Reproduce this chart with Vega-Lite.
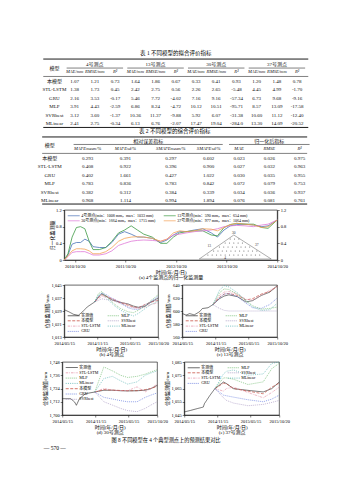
{
  "$schema": "https://vega.github.io/schema/vega-lite/v6.json",
  "padding": {"left": 37, "top": 51, "right": 0, "bottom": 0},
  "background": "white",
  "spacing": 1,
  "center": true,
  "resolve": {"scale": {"color": "independent", "strokeDash": "independent", "x": "independent", "y": "independent"}, "legend": {"color": "independent", "strokeDash": "independent"}},
  "config": {
    "font": "Liberation Serif, Noto Sans CJK SC",
    "view": {"stroke": "#000", "strokeWidth": 0.6},
    "axis": {"labelFontSize": 4.5, "titleFontSize": 5, "titleFontWeight": "normal", "tickSize": 2, "tickWidth": 0.5, "tickColor": "#000", "domainColor": "#000", "domainWidth": 0.6, "labelColor": "#000", "titleColor": "#000", "grid": false, "labelPadding": 1, "titlePadding": 1.5, "labelFlush": false, "labelOverlap": false, "labelBound": false, "titleLineHeight": 5.5},
    "legend": {"labelFontSize": 4, "labelColor": "#000", "symbolType": "M-1,0H5", "symbolSize": 16, "symbolStrokeWidth": 0.7, "labelOffset": 9, "rowPadding": 0.3, "columnPadding": 5, "padding": 1, "offset": 2, "labelLimit": 300},
    "title": {"fontSize": 5.5, "fontWeight": "normal", "color": "#000", "offset": 2},
    "text": {"fontSize": 5, "color": "#111"}
  },
  "title": {"text": "— 570 —", "orient": "bottom", "anchor": "start", "fontSize": 5.5, "offset": 3, "dx": 6},
  "datasets": {
    "t1": [
      {"模型": "本模型", "a1": "1.07", "a2": "1.21", "a3": "0.73", "b1": "1.64", "b2": "1.86", "b3": "0.67", "c1": "0.33", "c2": "0.41", "c3": "0.93", "d1": "1.20", "d2": "1.48", "d3": "0.78"},
      {"模型": "STL-LSTM", "a1": "1.38", "a2": "1.73", "a3": "0.45", "b1": "2.42", "b2": "2.75", "b3": "0.56", "c1": "2.26", "c2": "2.65", "c3": "-5.48", "d1": "4.45", "d2": "4.99", "d3": "-1.70"},
      {"模型": "GRU", "a1": "2.16", "a2": "3.53", "a3": "-0.17", "b1": "5.46", "b2": "7.72", "b3": "-4.02", "c1": "7.16", "c2": "9.16", "c3": "-57.34", "d1": "6.73", "d2": "9.68", "d3": "-9.16"},
      {"模型": "MLP", "a1": "3.91", "a2": "4.43", "a3": "-2.59", "b1": "6.86", "b2": "8.24", "b3": "-4.72", "c1": "10.12", "c2": "10.51", "c3": "-95.71", "d1": "8.57", "d2": "13.09", "d3": "-17.58"},
      {"模型": "SVRbest", "a1": "3.12", "a2": "3.60", "a3": "-1.37", "b1": "10.36", "b2": "11.37", "b3": "-9.88", "c1": "5.92", "c2": "6.07", "c3": "-31.38", "d1": "10.60", "d2": "11.12", "d3": "-12.40"},
      {"模型": "MLinear", "a1": "2.41", "a2": "2.75", "a3": "-0.34", "b1": "6.13", "b2": "6.76", "b3": "-2.07", "c1": "17.47", "c2": "19.04", "c3": "-284.0", "d1": "13.30", "d2": "14.09", "d3": "-20.52"}
    ],
    "t1g": [
      {"r": "h1", "k": "a2", "t": "4号测点"}, {"r": "h1", "k": "b2", "t": "13号测点"}, {"r": "h1", "k": "c2", "t": "30号测点"}, {"r": "h1", "k": "d2", "t": "37号测点"}
    ],
    "t1h": [
      {"r": "h2", "k": "a1", "t": "MAE/mm"}, {"r": "h2", "k": "a2", "t": "RMSE/mm"}, {"r": "h2", "k": "a3", "t": "R²"},
      {"r": "h2", "k": "b1", "t": "MAE/mm"}, {"r": "h2", "k": "b2", "t": "RMSE/mm"}, {"r": "h2", "k": "b3", "t": "R²"},
      {"r": "h2", "k": "c1", "t": "MAE/mm"}, {"r": "h2", "k": "c2", "t": "RMSE/mm"}, {"r": "h2", "k": "c3", "t": "R²"},
      {"r": "h2", "k": "d1", "t": "MAE/mm"}, {"r": "h2", "k": "d2", "t": "RMSE/mm"}, {"r": "h2", "k": "d3", "t": "R²"}
    ],
    "t1u": [{"k1": "a1", "k2": "a3"}, {"k1": "b1", "k2": "b3"}, {"k1": "c1", "k2": "c3"}, {"k1": "d1", "k2": "d3"}],
    "t2": [
      {"模型": "本模型", "m1": "0.293", "m2": "0.391", "m3": "0.297", "m4": "0.602", "n1": "0.023", "n2": "0.026", "n3": "0.975"},
      {"模型": "STL-LSTM", "m1": "0.408", "m2": "0.922", "m3": "0.396", "m4": "0.900", "n1": "0.027", "n2": "0.032", "n3": "0.963"},
      {"模型": "GRU", "m1": "0.402", "m2": "1.661", "m3": "0.427", "m4": "1.022", "n1": "0.030", "n2": "0.035", "n3": "0.955"},
      {"模型": "MLP", "m1": "0.783", "m2": "0.836", "m3": "0.783", "m4": "0.842", "n1": "0.072", "n2": "0.079", "n3": "0.753"},
      {"模型": "SVRbest", "m1": "0.382", "m2": "0.312", "m3": "0.384", "m4": "0.339", "n1": "0.034", "n2": "0.036", "n3": "0.937"},
      {"模型": "MLinear", "m1": "0.968", "m2": "1.114", "m3": "0.994", "m4": "1.894", "n1": "0.076", "n2": "0.081", "n3": "0.761"}
    ],
    "t2g": [{"r": "h1", "k": "_11", "t": "相对误差指标"}, {"r": "h1", "k": "n2", "t": "归一化后指标"}],
    "t2h": [
      {"r": "h2", "k": "m1", "t": "MAPEmean/%"}, {"r": "h2", "k": "m2", "t": "MAPEsd/%"}, {"r": "h2", "k": "m3", "t": "SMAPEmean/%"}, {"r": "h2", "k": "m4", "t": "SMAPEsd/%"},
      {"r": "h2", "k": "n1", "t": "MAE"}, {"r": "h2", "k": "n2", "t": "RMSE"}, {"r": "h2", "k": "n3", "t": "R²"}
    ],
    "top": [
      {"d": "2010-08-05", "4号测点(min：1008 mm，max：1033 mm)": 0.00, "13号测点(min：590 mm，max：654 mm)": 0.00, "30号测点(min：1664 mm，max：1715 mm)": 0.00, "37号测点(min：977 mm，max：1064 mm)": 0.00},
      {"d": "2010-09-01", "4号测点(min：1008 mm，max：1033 mm)": 0.12, "13号测点(min：590 mm，max：654 mm)": 0.15, "30号测点(min：1664 mm，max：1715 mm)": 0.08, "37号测点(min：977 mm，max：1064 mm)": 0.10},
      {"d": "2010-10-01", "4号测点(min：1008 mm，max：1033 mm)": 0.38, "13号测点(min：590 mm，max：654 mm)": 0.55, "30号测点(min：1664 mm，max：1715 mm)": 0.18, "37号测点(min：977 mm，max：1064 mm)": 0.22},
      {"d": "2010-11-01", "4号测点(min：1008 mm，max：1033 mm)": 0.42, "13号测点(min：590 mm，max：654 mm)": 0.78, "30号测点(min：1664 mm，max：1715 mm)": 0.20, "37号测点(min：977 mm，max：1064 mm)": 0.27},
      {"d": "2010-12-01", "4号测点(min：1008 mm，max：1033 mm)": 0.42, "13号测点(min：590 mm，max：654 mm)": 0.80, "30号测点(min：1664 mm，max：1715 mm)": 0.20, "37号测点(min：977 mm，max：1064 mm)": 0.27},
      {"d": "2011-01-01", "4号测点(min：1008 mm，max：1033 mm)": 0.50, "13号测点(min：590 mm，max：654 mm)": 0.75, "30号测点(min：1664 mm，max：1715 mm)": 0.20, "37号测点(min：977 mm，max：1064 mm)": 0.26},
      {"d": "2011-02-01", "4号测点(min：1008 mm，max：1033 mm)": 0.45, "13号测点(min：590 mm，max：654 mm)": 0.45, "30号测点(min：1664 mm，max：1715 mm)": 0.16, "37号测点(min：977 mm，max：1064 mm)": 0.22},
      {"d": "2011-03-01", "4号测点(min：1008 mm，max：1033 mm)": 0.32, "13号测点(min：590 mm，max：654 mm)": 0.25, "30号测点(min：1664 mm，max：1715 mm)": 0.12, "37号测点(min：977 mm，max：1064 mm)": 0.15},
      {"d": "2011-04-15", "4号测点(min：1008 mm，max：1033 mm)": 0.30, "13号测点(min：590 mm，max：654 mm)": 0.25, "30号测点(min：1664 mm，max：1715 mm)": 0.12, "37号测点(min：977 mm，max：1064 mm)": 0.15},
      {"d": "2011-06-01", "4号测点(min：1008 mm，max：1033 mm)": 0.30, "13号测点(min：590 mm，max：654 mm)": 0.30, "30号测点(min：1664 mm，max：1715 mm)": 0.15, "37号测点(min：977 mm，max：1064 mm)": 0.20},
      {"d": "2011-07-15", "4号测点(min：1008 mm，max：1033 mm)": 0.42, "13号测点(min：590 mm，max：654 mm)": 0.45, "30号测点(min：1664 mm，max：1715 mm)": 0.22, "37号测点(min：977 mm，max：1064 mm)": 0.30},
      {"d": "2011-09-01", "4号测点(min：1008 mm，max：1033 mm)": 0.62, "13号测点(min：590 mm，max：654 mm)": 0.65, "30号测点(min：1664 mm，max：1715 mm)": 0.35, "37号测点(min：977 mm，max：1064 mm)": 0.45},
      {"d": "2011-10-15", "4号测点(min：1008 mm，max：1033 mm)": 0.68, "13号测点(min：590 mm，max：654 mm)": 0.72, "30号测点(min：1664 mm，max：1715 mm)": 0.40, "37号测点(min：977 mm，max：1064 mm)": 0.52},
      {"d": "2011-12-01", "4号测点(min：1008 mm，max：1033 mm)": 0.62, "13号测点(min：590 mm，max：654 mm)": 0.82, "30号测点(min：1664 mm，max：1715 mm)": 0.45, "37号测点(min：977 mm，max：1064 mm)": 0.55},
      {"d": "2012-01-15", "4号测点(min：1008 mm，max：1033 mm)": 0.55, "13号测点(min：590 mm，max：654 mm)": 0.72, "30号测点(min：1664 mm，max：1715 mm)": 0.47, "37号测点(min：977 mm，max：1064 mm)": 0.56},
      {"d": "2012-03-01", "4号测点(min：1008 mm，max：1033 mm)": 0.55, "13号测点(min：590 mm，max：654 mm)": 0.62, "30号测点(min：1664 mm，max：1715 mm)": 0.48, "37号测点(min：977 mm，max：1064 mm)": 0.55},
      {"d": "2012-05-01", "4号测点(min：1008 mm，max：1033 mm)": 0.52, "13号测点(min：590 mm，max：654 mm)": 0.55, "30号测点(min：1664 mm，max：1715 mm)": 0.47, "37号测点(min：977 mm，max：1064 mm)": 0.52},
      {"d": "2012-07-01", "4号测点(min：1008 mm，max：1033 mm)": 0.42, "13号测点(min：590 mm，max：654 mm)": 0.40, "30号测点(min：1664 mm，max：1715 mm)": 0.45, "37号测点(min：977 mm，max：1064 mm)": 0.45},
      {"d": "2012-08-15", "4号测点(min：1008 mm，max：1033 mm)": 0.48, "13号测点(min：590 mm，max：654 mm)": 0.40, "30号测点(min：1664 mm，max：1715 mm)": 0.50, "37号测点(min：977 mm，max：1064 mm)": 0.50},
      {"d": "2012-10-01", "4号测点(min：1008 mm，max：1033 mm)": 0.60, "13号测点(min：590 mm，max：654 mm)": 0.55, "30号测点(min：1664 mm，max：1715 mm)": 0.60, "37号测点(min：977 mm，max：1064 mm)": 0.65},
      {"d": "2012-11-15", "4号测点(min：1008 mm，max：1033 mm)": 0.68, "13号测点(min：590 mm，max：654 mm)": 0.65, "30号测点(min：1664 mm，max：1715 mm)": 0.62, "37号测点(min：977 mm，max：1064 mm)": 0.70},
      {"d": "2013-01-01", "4号测点(min：1008 mm，max：1033 mm)": 0.68, "13号测点(min：590 mm，max：654 mm)": 0.68, "30号测点(min：1664 mm，max：1715 mm)": 0.65, "37号测点(min：977 mm，max：1064 mm)": 0.68},
      {"d": "2013-03-01", "4号测点(min：1008 mm，max：1033 mm)": 0.72, "13号测点(min：590 mm，max：654 mm)": 0.70, "30号测点(min：1664 mm，max：1715 mm)": 0.68, "37号测点(min：977 mm，max：1064 mm)": 0.70},
      {"d": "2013-05-01", "4号测点(min：1008 mm，max：1033 mm)": 0.75, "13号测点(min：590 mm，max：654 mm)": 0.70, "30号测点(min：1664 mm，max：1715 mm)": 0.70, "37号测点(min：977 mm，max：1064 mm)": 0.75},
      {"d": "2013-07-01", "4号测点(min：1008 mm，max：1033 mm)": 0.65, "13号测点(min：590 mm，max：654 mm)": 0.60, "30号测点(min：1664 mm，max：1715 mm)": 0.72, "37号测点(min：977 mm，max：1064 mm)": 0.74},
      {"d": "2013-08-15", "4号测点(min：1008 mm，max：1033 mm)": 0.55, "13号测点(min：590 mm，max：654 mm)": 0.58, "30号测点(min：1664 mm，max：1715 mm)": 0.75, "37号测点(min：977 mm，max：1064 mm)": 0.70},
      {"d": "2013-10-01", "4号测点(min：1008 mm，max：1033 mm)": 0.72, "13号测点(min：590 mm，max：654 mm)": 0.78, "30号测点(min：1664 mm，max：1715 mm)": 0.80, "37号测点(min：977 mm，max：1064 mm)": 0.78},
      {"d": "2013-11-15", "4号测点(min：1008 mm，max：1033 mm)": 0.82, "13号测点(min：590 mm，max：654 mm)": 0.85, "30号测点(min：1664 mm，max：1715 mm)": 0.82, "37号测点(min：977 mm，max：1064 mm)": 0.85},
      {"d": "2014-01-01", "4号测点(min：1008 mm，max：1033 mm)": 0.85, "13号测点(min：590 mm，max：654 mm)": 0.88, "30号测点(min：1664 mm，max：1715 mm)": 0.83, "37号测点(min：977 mm，max：1064 mm)": 0.88},
      {"d": "2014-03-01", "4号测点(min：1008 mm，max：1033 mm)": 0.86, "13号测点(min：590 mm，max：654 mm)": 0.86, "30号测点(min：1664 mm，max：1715 mm)": 0.82, "37号测点(min：977 mm，max：1064 mm)": 0.86},
      {"d": "2014-05-01", "4号测点(min：1008 mm，max：1033 mm)": 0.84, "13号测点(min：590 mm，max：654 mm)": 0.86, "30号测点(min：1664 mm，max：1715 mm)": 0.80, "37号测点(min：977 mm，max：1064 mm)": 0.84},
      {"d": "2014-07-01", "4号测点(min：1008 mm，max：1033 mm)": 0.80, "13号测点(min：590 mm，max：654 mm)": 0.78, "30号测点(min：1664 mm，max：1715 mm)": 0.84, "37号测点(min：977 mm，max：1064 mm)": 0.78},
      {"d": "2014-08-15", "4号测点(min：1008 mm，max：1033 mm)": 0.82, "13号测点(min：590 mm，max：654 mm)": 0.76, "30号测点(min：1664 mm，max：1715 mm)": 0.86, "37号测点(min：977 mm，max：1064 mm)": 0.80},
      {"d": "2014-10-20", "4号测点(min：1008 mm，max：1033 mm)": 0.96, "13号测点(min：590 mm，max：654 mm)": 0.96, "30号测点(min：1664 mm，max：1715 mm)": 0.96, "37号测点(min：977 mm，max：1064 mm)": 0.96}
    ],
    "damOutline": [{"o": 1, "ix": 0, "iy": 0}, {"o": 2, "ix": 48, "iy": 30}, {"o": 3, "ix": 100, "iy": 0}, {"o": 4, "ix": 0, "iy": 0}],
    "damDots": [
      {"ix": 12, "iy": 5}, {"ix": 18, "iy": 5}, {"ix": 24, "iy": 5}, {"ix": 30, "iy": 5}, {"ix": 36, "iy": 5}, {"ix": 42, "iy": 5}, {"ix": 48, "iy": 5}, {"ix": 54, "iy": 5}, {"ix": 60, "iy": 5}, {"ix": 66, "iy": 5}, {"ix": 72, "iy": 5}, {"ix": 78, "iy": 5}, {"ix": 84, "iy": 5},
      {"ix": 20, "iy": 10}, {"ix": 26, "iy": 10}, {"ix": 32, "iy": 10}, {"ix": 38, "iy": 10}, {"ix": 44, "iy": 10}, {"ix": 50, "iy": 10}, {"ix": 56, "iy": 10}, {"ix": 62, "iy": 10}, {"ix": 68, "iy": 10}, {"ix": 74, "iy": 10}, {"ix": 80, "iy": 10},
      {"ix": 28, "iy": 15}, {"ix": 34, "iy": 15}, {"ix": 40, "iy": 15}, {"ix": 46, "iy": 15}, {"ix": 52, "iy": 15}, {"ix": 58, "iy": 15}, {"ix": 64, "iy": 15}, {"ix": 70, "iy": 15},
      {"ix": 36, "iy": 20}, {"ix": 42, "iy": 20}, {"ix": 48, "iy": 20}, {"ix": 54, "iy": 20}, {"ix": 60, "iy": 20},
      {"ix": 43, "iy": 25}, {"ix": 49, "iy": 25}, {"ix": 55, "iy": 25}
    ],
    "damLabels": [{"ix": 14, "iy": 16, "t": "13"}, {"ix": 80, "iy": 17, "t": "37"}, {"ix": 48, "iy": 33, "t": "30"}, {"ix": 36, "iy": 1.5, "t": "4"}],
    "pa": [
      {"d": "2014-05-15", "实测值": 1029.8},
      {"d": "2014-06-10", "实测值": 1028.5},
      {"d": "2014-07-05", "实测值": 1027.0},
      {"d": "2014-08-01", "实测值": 1026.3},
      {"d": "2014-08-25", "实测值": 1028.5},
      {"d": "2014-09-20", "实测值": 1031.5},
      {"d": "2014-11-01", "实测值": 1034.6, "本模型": 1034.6, "STL-LSTM": 1034.6, "GRU": 1034.6, "MLP": 1034.6, "SVRbest": 1034.6, "MLinear": 1034.6},
      {"d": "2014-11-20", "实测值": 1037.5, "本模型": 1037.2, "STL-LSTM": 1036.5, "GRU": 1037.8, "MLP": 1039.5, "SVRbest": 1035.5, "MLinear": 1038.5},
      {"d": "2014-12-10", "实测值": 1039.6, "本模型": 1039.0, "STL-LSTM": 1038.0, "GRU": 1040.0, "MLP": 1041.0, "SVRbest": 1036.5, "MLinear": 1040.0},
      {"d": "2015-01-05", "实测值": 1038.0, "本模型": 1038.0, "STL-LSTM": 1037.5, "GRU": 1039.0, "MLP": 1038.0, "SVRbest": 1036.0, "MLinear": 1037.0},
      {"d": "2015-02-01", "实测值": 1036.0, "本模型": 1036.5, "STL-LSTM": 1037.0, "GRU": 1037.0, "MLP": 1035.0, "SVRbest": 1035.5, "MLinear": 1034.0},
      {"d": "2015-02-21", "实测值": 1035.3, "本模型": 1035.5, "STL-LSTM": 1036.0, "GRU": 1036.0, "MLP": 1033.0, "SVRbest": 1035.0, "MLinear": 1032.0},
      {"d": "2015-03-25", "实测值": 1034.3, "本模型": 1034.0, "STL-LSTM": 1034.5, "GRU": 1034.0, "MLP": 1030.5, "SVRbest": 1033.5, "MLinear": 1029.5},
      {"d": "2015-05-06", "实测值": 1033.3, "本模型": 1032.5, "STL-LSTM": 1033.0, "GRU": 1031.0, "MLP": 1028.5, "SVRbest": 1031.5, "MLinear": 1027.0},
      {"d": "2015-06-05", "实测值": 1032.0, "本模型": 1031.5, "STL-LSTM": 1031.0, "GRU": 1030.0, "MLP": 1028.0, "SVRbest": 1031.0, "MLinear": 1026.0},
      {"d": "2015-07-02", "实测值": 1031.3, "本模型": 1031.0, "STL-LSTM": 1030.5, "GRU": 1030.0, "MLP": 1029.5, "SVRbest": 1031.0, "MLinear": 1027.5},
      {"d": "2015-08-08", "实测值": 1032.0, "本模型": 1033.0, "STL-LSTM": 1031.5, "GRU": 1032.0, "MLP": 1032.0, "SVRbest": 1033.0, "MLinear": 1030.5},
      {"d": "2015-09-10", "实测值": 1034.5, "本模型": 1034.5, "STL-LSTM": 1033.0, "GRU": 1035.0, "MLP": 1035.5, "SVRbest": 1034.5, "MLinear": 1033.0},
      {"d": "2015-10-20", "实测值": 1037.0, "本模型": 1035.5, "STL-LSTM": 1034.0, "GRU": 1038.0, "MLP": 1039.0, "SVRbest": 1036.0, "MLinear": 1035.0}
    ],
    "pb": [
      {"d": "2014-05-15", "实测值": 596.2},
      {"d": "2014-06-05", "实测值": 593.7},
      {"d": "2014-06-25", "实测值": 596.0},
      {"d": "2014-07-20", "实测值": 594.0},
      {"d": "2014-08-18", "实测值": 598.8},
      {"d": "2014-09-03", "实测值": 603.8},
      {"d": "2014-10-04", "实测值": 605.0},
      {"d": "2014-10-31", "实测值": 609.8, "本模型": 609.8, "STL-LSTM": 609.8, "GRU": 609.8, "MLP": 609.8, "SVRbest": 609.8, "MLinear": 609.8},
      {"d": "2014-12-06", "实测值": 618.9, "本模型": 621, "STL-LSTM": 624, "GRU": 620, "MLP": 628, "SVRbest": 604, "MLinear": 632},
      {"d": "2015-01-01", "实测值": 623.0, "本模型": 626, "STL-LSTM": 629, "GRU": 626, "MLP": 634, "SVRbest": 601, "MLinear": 639},
      {"d": "2015-01-27", "实测值": 624.9, "本模型": 627, "STL-LSTM": 630, "GRU": 627, "MLP": 633, "SVRbest": 600, "MLinear": 637},
      {"d": "2015-03-15", "实测值": 622.0, "本模型": 624, "STL-LSTM": 626, "GRU": 622, "MLP": 626, "SVRbest": 600, "MLinear": 628},
      {"d": "2015-05-01", "实测值": 613.9, "本模型": 617, "STL-LSTM": 618, "GRU": 612, "MLP": 616, "SVRbest": 600, "MLinear": 616},
      {"d": "2015-06-07", "实测值": 616.0, "本模型": 619, "STL-LSTM": 617, "GRU": 605, "MLP": 608, "SVRbest": 600, "MLinear": 606},
      {"d": "2015-07-24", "实测值": 623.9, "本模型": 626, "STL-LSTM": 624, "GRU": 604, "MLP": 603, "SVRbest": 600, "MLinear": 601},
      {"d": "2015-09-09", "实测值": 629.0, "本模型": 630, "STL-LSTM": 632, "GRU": 610, "MLP": 604, "SVRbest": 600, "MLinear": 602},
      {"d": "2015-10-20", "实测值": 639.0, "本模型": 638, "STL-LSTM": 637, "GRU": 620, "MLP": 606, "SVRbest": 600, "MLinear": 612}
    ],
    "pc": [
      {"d": "2014-05-15", "实测值": 1714.8},
      {"d": "2014-06-30", "实测值": 1714.8},
      {"d": "2014-07-22", "实测值": 1711.8},
      {"d": "2014-08-01", "实测值": 1708.8},
      {"d": "2014-08-18", "实测值": 1714.8},
      {"d": "2014-09-20", "实测值": 1719.3},
      {"d": "2014-11-10", "实测值": 1720.8, "本模型": 1720.8, "STL-LSTM": 1720.8, "GRU": 1720.8, "MLP": 1720.8, "SVRbest": 1720.8, "MLinear": 1720.8},
      {"d": "2014-12-30", "实测值": 1722.4, "本模型": 1723, "STL-LSTM": 1724, "GRU": 1716, "MLP": 1743.5, "SVRbest": 1712, "MLinear": 1733},
      {"d": "2015-02-15", "实测值": 1722.4, "本模型": 1722.6, "STL-LSTM": 1722.5, "GRU": 1714.5, "MLP": 1740, "SVRbest": 1709, "MLinear": 1735},
      {"d": "2015-04-01", "实测值": 1722.0, "本模型": 1722.2, "STL-LSTM": 1722, "GRU": 1713, "MLP": 1736, "SVRbest": 1706, "MLinear": 1731},
      {"d": "2015-05-10", "实测值": 1721.8, "本模型": 1722, "STL-LSTM": 1722, "GRU": 1712, "MLP": 1734, "SVRbest": 1704, "MLinear": 1728},
      {"d": "2015-07-01", "实测值": 1722.0, "本模型": 1722, "STL-LSTM": 1725.5, "GRU": 1712, "MLP": 1735, "SVRbest": 1703, "MLinear": 1730},
      {"d": "2015-08-15", "实测值": 1722.4, "本模型": 1723, "STL-LSTM": 1721, "GRU": 1716, "MLP": 1737, "SVRbest": 1706, "MLinear": 1736},
      {"d": "2015-09-15", "实测值": 1723.9, "本模型": 1724, "STL-LSTM": 1724, "GRU": 1718, "MLP": 1739, "SVRbest": 1709, "MLinear": 1738},
      {"d": "2015-10-20", "实测值": 1726.9, "本模型": 1726, "STL-LSTM": 1728, "GRU": 1720, "MLP": 1741, "SVRbest": 1712, "MLinear": 1740}
    ],
    "pd": [
      {"d": "2014-05-15", "实测值": 1047.3},
      {"d": "2014-06-20", "实测值": 1048.5},
      {"d": "2014-07-25", "实测值": 1049.8},
      {"d": "2014-08-28", "实测值": 1051.0},
      {"d": "2014-09-03", "实测值": 1053.5},
      {"d": "2014-10-04", "实测值": 1059.9},
      {"d": "2014-10-31", "实测值": 1064.9, "本模型": 1064.9, "STL-LSTM": 1064.9, "GRU": 1064.9, "MLP": 1064.9, "SVRbest": 1064.9, "MLinear": 1064.9},
      {"d": "2014-12-17", "实测值": 1069.9, "本模型": 1069, "STL-LSTM": 1063, "GRU": 1060, "MLP": 1073, "SVRbest": 1058, "MLinear": 1076},
      {"d": "2015-01-03", "实测值": 1068.7, "本模型": 1068.5, "STL-LSTM": 1065, "GRU": 1059.5, "MLP": 1073, "SVRbest": 1056, "MLinear": 1078},
      {"d": "2015-02-10", "实测值": 1064.9, "本模型": 1065, "STL-LSTM": 1066, "GRU": 1058.5, "MLP": 1072, "SVRbest": 1054, "MLinear": 1079},
      {"d": "2015-05-01", "实测值": 1063.6, "本模型": 1063, "STL-LSTM": 1062, "GRU": 1056.5, "MLP": 1068, "SVRbest": 1052, "MLinear": 1075},
      {"d": "2015-07-24", "实测值": 1062.4, "本模型": 1061, "STL-LSTM": 1058, "GRU": 1055, "MLP": 1070, "SVRbest": 1053, "MLinear": 1076},
      {"d": "2015-09-09", "实测值": 1064.9, "本模型": 1066, "STL-LSTM": 1062, "GRU": 1057, "MLP": 1080, "SVRbest": 1054.5, "MLinear": 1084},
      {"d": "2015-10-20", "实测值": 1069.9, "本模型": 1069, "STL-LSTM": 1066, "GRU": 1060, "MLP": 1084, "SVRbest": 1056, "MLinear": 1085}
    ]
  },
  "vconcat": [
    {
      "width": 265, "height": 69,
      "view": {"stroke": null},
      "title": {"text": "表 1  不同模型的拟合评价指标"},
      "layer": [
        {
          "data": {"name": "t1"},
          "transform": [{"fold": ["模型", "a1", "a2", "a3", "b1", "b2", "b3", "c1", "c2", "c3", "d1", "d2", "d3"], "as": ["k", "t"]}],
          "mark": {"type": "text"},
          "encoding": {
            "x": {"field": "k", "type": "ordinal", "scale": {"type": "point", "domain": ["模型", "a1", "a2", "a3", "b1", "b2", "b3", "c1", "c2", "c3", "d1", "d2", "d3"], "padding": 0.55}, "axis": null},
            "y": {"field": "模型", "type": "ordinal", "scale": {"type": "point", "domain": ["h1", "h2", "本模型", "STL-LSTM", "GRU", "MLP", "SVRbest", "MLinear"], "padding": 0.6}, "axis": null},
            "text": {"field": "t", "type": "nominal"}
          }
        },
        {
          "data": {"name": "t1g"},
          "mark": {"type": "text"},
          "encoding": {"x": {"field": "k", "type": "ordinal"}, "y": {"field": "r", "type": "ordinal"}, "text": {"field": "t", "type": "nominal"}}
        },
        {
          "data": {"name": "t1h"},
          "mark": {"type": "text", "fontStyle": "italic", "fontSize": 4.6},
          "encoding": {"x": {"field": "k", "type": "ordinal"}, "y": {"field": "r", "type": "ordinal"}, "text": {"field": "t", "type": "nominal"}}
        },
        {
          "data": {"values": [{"r": "h1", "k": "模型", "t": "模型"}]},
          "mark": {"type": "text", "dy": 4},
          "encoding": {"x": {"field": "k", "type": "ordinal"}, "y": {"field": "r", "type": "ordinal"}, "text": {"field": "t", "type": "nominal"}}
        },
        {"data": {"values": [{}]}, "mark": {"type": "rule", "yOffset": -5, "strokeWidth": 0.9, "color": "#000"}, "encoding": {"y": {"datum": "h1", "type": "ordinal"}}},
        {"data": {"values": [{}]}, "mark": {"type": "rule", "yOffset": 4, "strokeWidth": 0.5, "color": "#000"}, "encoding": {"y": {"datum": "h2", "type": "ordinal"}}},
        {"data": {"values": [{}]}, "mark": {"type": "rule", "yOffset": 4.5, "strokeWidth": 0.9, "color": "#000"}, "encoding": {"y": {"datum": "MLinear", "type": "ordinal"}}},
        {
          "data": {"name": "t1u"},
          "mark": {"type": "rule", "yOffset": 4, "xOffset": -8, "x2Offset": 8, "strokeWidth": 0.5, "color": "#000"},
          "encoding": {"x": {"field": "k1", "type": "ordinal"}, "x2": {"field": "k2"}, "y": {"datum": "h1", "type": "ordinal"}}
        }
      ]
    },
    {
      "width": 265, "height": 67,
      "view": {"stroke": null},
      "title": {"text": "表 2  不同模型的综合评价指标"},
      "layer": [
        {
          "data": {"name": "t2"},
          "transform": [{"fold": ["模型", "m1", "m2", "m3", "m4", "n1", "n2", "n3"], "as": ["k", "t"]}],
          "mark": {"type": "text"},
          "encoding": {
            "x": {"field": "k", "type": "ordinal", "scale": {"type": "point", "domain": ["模型", "_1", "_2", "_3", "_4", "m1", "_5", "_6", "_7", "_8", "m2", "_9", "_10", "_11", "_12", "_13", "m3", "_14", "_15", "_16", "_17", "m4", "_18", "_19", "_20", "n1", "_21", "_22", "_23", "n2", "_24", "_25", "_26", "n3"], "padding": 1.5}, "axis": null},
            "y": {"field": "模型", "type": "ordinal", "scale": {"type": "point", "domain": ["h1", "h2", "本模型", "STL-LSTM", "GRU", "MLP", "SVRbest", "MLinear"], "padding": 0.47}, "axis": null},
            "text": {"field": "t", "type": "nominal"}
          }
        },
        {
          "data": {"name": "t2g"},
          "mark": {"type": "text"},
          "encoding": {"x": {"field": "k", "type": "ordinal"}, "y": {"field": "r", "type": "ordinal"}, "text": {"field": "t", "type": "nominal"}}
        },
        {
          "data": {"name": "t2h"},
          "mark": {"type": "text", "fontStyle": "italic", "fontSize": 4.6},
          "encoding": {"x": {"field": "k", "type": "ordinal"}, "y": {"field": "r", "type": "ordinal"}, "text": {"field": "t", "type": "nominal"}}
        },
        {
          "data": {"values": [{"r": "h1", "k": "模型", "t": "模型"}]},
          "mark": {"type": "text", "dy": 4.5},
          "encoding": {"x": {"field": "k", "type": "ordinal"}, "y": {"field": "r", "type": "ordinal"}, "text": {"field": "t", "type": "nominal"}}
        },
        {"data": {"values": [{}]}, "mark": {"type": "rule", "yOffset": -4, "strokeWidth": 0.9, "color": "#000"}, "encoding": {"y": {"datum": "h1", "type": "ordinal"}}},
        {"data": {"values": [{}]}, "mark": {"type": "rule", "yOffset": 4, "strokeWidth": 0.5, "color": "#000"}, "encoding": {"y": {"datum": "h2", "type": "ordinal"}}},
        {"data": {"values": [{}]}, "mark": {"type": "rule", "yOffset": 4, "strokeWidth": 0.9, "color": "#000"}, "encoding": {"y": {"datum": "MLinear", "type": "ordinal"}}},
        {
          "data": {"values": [{"k1": "m1", "k2": "m4"}]},
          "mark": {"type": "rule", "yOffset": 3.5, "xOffset": -14, "x2Offset": 14, "strokeWidth": 0.5, "color": "#000"},
          "encoding": {"x": {"field": "k1", "type": "ordinal"}, "x2": {"field": "k2"}, "y": {"datum": "h1", "type": "ordinal"}}
        },
        {
          "data": {"values": [{"k1": "n1", "k2": "n3"}]},
          "mark": {"type": "rule", "yOffset": 3.5, "xOffset": -10, "x2Offset": 10, "strokeWidth": 0.5, "color": "#000"},
          "encoding": {"x": {"field": "k1", "type": "ordinal"}, "x2": {"field": "k2"}, "y": {"datum": "h1", "type": "ordinal"}}
        }
      ]
    },
    {
      "width": 213, "height": 50,
      "layer": [
        {
          "data": {"name": "top"},
          "transform": [{"fold": ["4号测点(min：1008 mm，max：1033 mm)", "13号测点(min：590 mm，max：654 mm)", "30号测点(min：1664 mm，max：1715 mm)", "37号测点(min：977 mm，max：1064 mm)"], "as": ["s", "v"]}],
          "mark": {"type": "line", "strokeWidth": 0.8},
          "encoding": {
            "x": {"field": "d", "type": "temporal", "scale": {"domain": [{"year": 2010, "month": 8, "date": 5}, {"year": 2014, "month": 10, "date": 20}]}, "axis": {"values": [{"year": 2010, "month": 10, "date": 20}, {"year": 2011, "month": 10, "date": 20}, {"year": 2012, "month": 10, "date": 20}, {"year": 2013, "month": 10, "date": 20}, {"year": 2014, "month": 10, "date": 20}], "format": "%Y/%m/%d", "title": ["时间(年/月/日)", "(a) 4个监测点的归一化监测量"]}},
            "y": {"field": "v", "type": "quantitative", "scale": {"domain": [0, 1.2], "nice": false}, "axis": {"values": [0, 0.4, 0.8, 1.2], "format": "~g", "title": "归一化监测量", "orient": "left"}},
            "color": {"field": "s", "type": "nominal", "scale": {"domain": ["4号测点(min：1008 mm，max：1033 mm)", "30号测点(min：1664 mm，max：1715 mm)", "13号测点(min：590 mm，max：654 mm)", "37号测点(min：977 mm，max：1064 mm)"], "range": ["#4a74b8", "#e07ad8", "#3f9b45", "#f4a256"]}, "legend": {"orient": "top-left", "columns": 2, "title": null, "columnPadding": 6, "offset": 2}}
          }
        },
        {
          "data": {"name": "top"},
          "transform": [{"fold": ["4号测点(min：1008 mm，max：1033 mm)"], "as": ["s", "v"]}],
          "mark": {"type": "line", "opacity": 0},
          "encoding": {
            "x": {"field": "d", "type": "temporal", "scale": {"domain": [{"year": 2010, "month": 8, "date": 5}, {"year": 2014, "month": 10, "date": 20}]}, "axis": null},
            "y": {"field": "v", "type": "quantitative", "scale": {"domain": [0, 1.2], "nice": false}, "axis": {"values": [0, 0.4, 0.8, 1.2], "format": "~g", "title": null, "orient": "right"}}
          }
        },
        {
          "data": {"name": "damOutline"},
          "mark": {"type": "line", "color": "#777", "strokeWidth": 0.6},
          "encoding": {
            "x": {"field": "ix", "type": "quantitative", "scale": {"domain": [-187.5, 108.3], "nice": false, "zero": false}, "axis": null},
            "y": {"field": "iy", "type": "quantitative", "scale": {"domain": [-1.25, 61.25], "nice": false, "zero": false}, "axis": null},
            "order": {"field": "o", "type": "quantitative"}
          }
        },
        {
          "data": {"name": "damDots"},
          "mark": {"type": "point", "filled": true, "size": 1.2, "color": "#222"},
          "encoding": {
            "x": {"field": "ix", "type": "quantitative", "scale": {"domain": [-187.5, 108.3], "nice": false, "zero": false}, "axis": null},
            "y": {"field": "iy", "type": "quantitative", "scale": {"domain": [-1.25, 61.25], "nice": false, "zero": false}, "axis": null}
          }
        },
        {
          "data": {"name": "damLabels"},
          "mark": {"type": "text", "fontSize": 3.5, "color": "#333"},
          "encoding": {
            "x": {"field": "ix", "type": "quantitative", "scale": {"domain": [-187.5, 108.3], "nice": false, "zero": false}, "axis": null},
            "y": {"field": "iy", "type": "quantitative", "scale": {"domain": [-1.25, 61.25], "nice": false, "zero": false}, "axis": null},
            "text": {"field": "t", "type": "nominal"}
          }
        }
      ],
      "resolve": {"scale": {"x": "independent", "y": "independent"}}
    },
    {
      "spacing": -4,
      "resolve": {"scale": {"color": "independent", "strokeDash": "independent"}, "legend": {"color": "independent", "strokeDash": "independent"}},
      "hconcat": [
        {
          "width": 94, "height": 52,
          "data": {"name": "pa"},
          "transform": [{"fold": ["实测值", "本模型", "STL-LSTM", "GRU", "MLP", "SVRbest", "MLinear"], "as": ["m", "v"]}, {"filter": "datum.v != null"}],
          "mark": {"type": "line", "strokeWidth": 0.6},
          "encoding": {
            "x": {"field": "d", "type": "temporal", "scale": {"domain": [{"year": 2014, "month": 5, "date": 15}, {"year": 2015, "month": 10, "date": 20}]}, "axis": {"values": [{"year": 2014, "month": 5, "date": 15}, {"year": 2014, "month": 11, "date": 15}, {"year": 2015, "month": 5, "date": 15}, {"year": 2015, "month": 10, "date": 20}], "format": "%Y/%m/%d", "title": ["时间(年/月/日)", "(b) 4号测点"]}},
            "y": {"field": "v", "type": "quantitative", "scale": {"domain": [1013, 1045], "nice": false, "zero": false}, "axis": {"values": [1013, 1021, 1029, 1037, 1045], "title": "位移监测值/mm"}},
            "color": {"field": "m", "type": "nominal", "scale": {"domain": ["实测值", "本模型", "STL-LSTM", "GRU", "MLP", "SVRbest", "MLinear"], "range": ["#1a1a1a", "#c0392b", "#e38aa0", "#4a64d8", "#58b058", "#9a86b8", "#3fa8a8"]}, "legend": {"orient": "bottom-left", "columns": 2, "title": null}},
            "strokeDash": {"field": "m", "type": "nominal", "scale": {"domain": ["实测值", "本模型", "STL-LSTM", "GRU", "MLP", "SVRbest", "MLinear"], "range": [[1, 0], [3, 1.5], [2.5, 1, 0.8, 1], [1, 1], [1, 1], [1, 1], [1, 1.2]]}, "legend": {"orient": "bottom-left", "columns": 2, "title": null}}
          }
        },
        {
          "width": 95, "height": 52,
          "data": {"name": "pb"},
          "transform": [{"fold": ["实测值", "本模型", "STL-LSTM", "GRU", "MLP", "SVRbest", "MLinear"], "as": ["m", "v"]}, {"filter": "datum.v != null"}],
          "mark": {"type": "line", "strokeWidth": 0.6},
          "encoding": {
            "x": {"field": "d", "type": "temporal", "scale": {"domain": [{"year": 2014, "month": 5, "date": 15}, {"year": 2015, "month": 10, "date": 20}]}, "axis": {"values": [{"year": 2014, "month": 5, "date": 15}, {"year": 2014, "month": 11, "date": 15}, {"year": 2015, "month": 5, "date": 15}, {"year": 2015, "month": 10, "date": 20}], "format": "%Y/%m/%d", "title": ["时间(年/月/日)", "(c) 13号测点"]}},
            "y": {"field": "v", "type": "quantitative", "scale": {"domain": [560, 640], "nice": false, "zero": false}, "axis": {"values": [560, 580, 600, 620, 640], "title": "位移监测值/mm"}},
            "color": {"field": "m", "type": "nominal", "scale": {"domain": ["实测值", "本模型", "STL-LSTM", "GRU", "MLP", "SVRbest", "MLinear"], "range": ["#1a1a1a", "#c0392b", "#e38aa0", "#4a64d8", "#58b058", "#9a86b8", "#3fa8a8"]}, "legend": {"orient": "bottom-left", "columns": 2, "title": null}},
            "strokeDash": {"field": "m", "type": "nominal", "scale": {"domain": ["实测值", "本模型", "STL-LSTM", "GRU", "MLP", "SVRbest", "MLinear"], "range": [[1, 0], [3, 1.5], [2.5, 1, 0.8, 1], [1, 1], [1, 1], [1, 1], [1, 1.2]]}, "legend": {"orient": "bottom-left", "columns": 2, "title": null}}
          }
        }
      ]
    },
    {
      "spacing": -4,
      "resolve": {"scale": {"color": "independent", "strokeDash": "independent"}, "legend": {"color": "independent", "strokeDash": "independent"}},
      "title": {"text": "图 8  不同模型在 4 个典型测点上的预测结果对比", "orient": "bottom", "anchor": "middle", "fontSize": 5.2, "offset": 3},
      "hconcat": [
        {
          "width": 95, "height": 53,
          "data": {"name": "pc"},
          "transform": [{"fold": ["实测值", "本模型", "STL-LSTM", "GRU", "MLP", "SVRbest", "MLinear"], "as": ["m", "v"]}, {"filter": "datum.v != null"}],
          "mark": {"type": "line", "strokeWidth": 0.6},
          "encoding": {
            "x": {"field": "d", "type": "temporal", "scale": {"domain": [{"year": 2014, "month": 5, "date": 15}, {"year": 2015, "month": 10, "date": 20}]}, "axis": {"values": [{"year": 2014, "month": 5, "date": 15}, {"year": 2014, "month": 11, "date": 15}, {"year": 2015, "month": 5, "date": 15}, {"year": 2015, "month": 10, "date": 20}], "format": "%Y/%m/%d", "title": ["时间(年/月/日)", "(d) 30号测点"]}},
            "y": {"field": "v", "type": "quantitative", "scale": {"domain": [1700, 1748], "nice": false, "zero": false}, "axis": {"values": [1700, 1712, 1724, 1736, 1748], "title": "位移监测值/mm"}},
            "color": {"field": "m", "type": "nominal", "scale": {"domain": ["实测值", "STL-LSTM", "MLP", "MLinear", "本模型", "GRU", "SVRbest"], "range": ["#1a1a1a", "#e38aa0", "#58b058", "#3fa8a8", "#c0392b", "#4a64d8", "#9a86b8"]}, "legend": {"orient": "top-left", "columns": 1, "title": null}},
            "strokeDash": {"field": "m", "type": "nominal", "scale": {"domain": ["实测值", "STL-LSTM", "MLP", "MLinear", "本模型", "GRU", "SVRbest"], "range": [[1, 0], [2.5, 1, 0.8, 1], [1, 1], [1, 1.2], [3, 1.5], [1, 1], [1, 1]]}, "legend": {"orient": "top-left", "columns": 1, "title": null}}
          }
        },
        {
          "width": 95, "height": 53,
          "data": {"name": "pd"},
          "transform": [{"fold": ["实测值", "本模型", "STL-LSTM", "GRU", "MLP", "SVRbest", "MLinear"], "as": ["m", "v"]}, {"filter": "datum.v != null"}],
          "mark": {"type": "line", "strokeWidth": 0.6},
          "encoding": {
            "x": {"field": "d", "type": "temporal", "scale": {"domain": [{"year": 2014, "month": 5, "date": 15}, {"year": 2015, "month": 10, "date": 20}]}, "axis": {"values": [{"year": 2014, "month": 5, "date": 15}, {"year": 2014, "month": 11, "date": 15}, {"year": 2015, "month": 5, "date": 15}, {"year": 2015, "month": 10, "date": 20}], "format": "%Y/%m/%d", "title": ["时间(年/月/日)", "(e) 37号测点"]}},
            "y": {"field": "v", "type": "quantitative", "scale": {"domain": [1045, 1085], "nice": false, "zero": false}, "axis": {"values": [1045, 1055, 1065, 1075, 1085], "title": "位移监测值/mm"}},
            "color": {"field": "m", "type": "nominal", "scale": {"domain": ["实测值", "本模型", "STL-LSTM", "GRU", "MLP", "SVRbest", "MLinear"], "range": ["#1a1a1a", "#c0392b", "#e38aa0", "#4a64d8", "#58b058", "#9a86b8", "#3fa8a8"]}, "legend": {"orient": "top-left", "columns": 2, "title": null}},
            "strokeDash": {"field": "m", "type": "nominal", "scale": {"domain": ["实测值", "本模型", "STL-LSTM", "GRU", "MLP", "SVRbest", "MLinear"], "range": [[1, 0], [3, 1.5], [2.5, 1, 0.8, 1], [1, 1], [1, 1], [1, 1], [1, 1.2]]}, "legend": {"orient": "top-left", "columns": 2, "title": null}}
          }
        }
      ]
    }
  ]
}
